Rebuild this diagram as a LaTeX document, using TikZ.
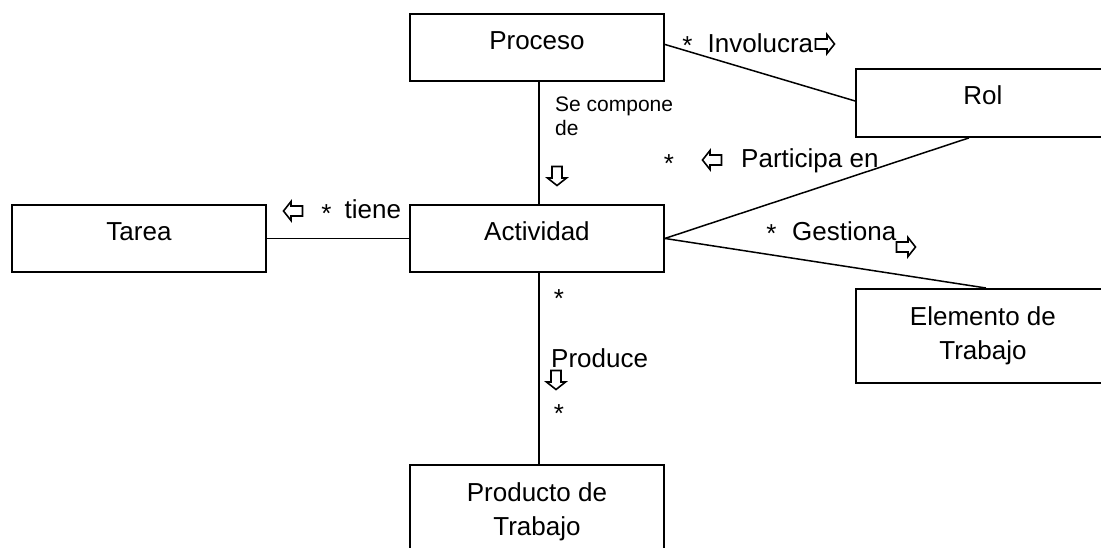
\documentclass[tikz,border=0pt]{standalone}
\usepackage{fontspec}
\setmainfont{Liberation Sans}
\begin{document}
\begin{tikzpicture}[x=1pt,y=-1pt,
  every node/.style={font=\fontsize{26}{34}\selectfont},
  classbox/.style={draw, line width=1.9, minimum width=254, minimum height=67, inner sep=0},
  oneline/.style={classbox, text height=20, text depth=16},
  twoline/.style={classbox, align=center, minimum height=94},
  lbl/.style={inner sep=0, anchor=base west},
  star/.style={inner sep=0, anchor=base},
  link/.style={line width=1.5},
  blockarrow/.pic={
    \draw[line width=1.6, line join=miter]
      (-9.5,-5) -- (2,-5) -- (2,-9.5) -- (9.5,0) -- (2,9.5) -- (2,5) -- (-9.5,5) -- cycle;
  }]
\path[use as bounding box, clip] (0,0) rectangle (1101,547);

% classes
\node[oneline, anchor=north west] (proceso)   at (409,13)  {Proceso};
\node[oneline, anchor=north west, minimum height=68] (rol) at (855,68) {Rol};
\node[oneline, anchor=north west] (tarea)     at (11,204)  {Tarea};
\node[oneline, anchor=north west] (actividad) at (409,204) {Actividad};
\node[twoline, anchor=north west] (elemento)  at (855,288) {Elemento de\\Trabajo};
\node[twoline, anchor=north west] (producto)  at (409,464) {Producto de\\Trabajo};

% associations
\draw[link] ([yshift=3pt]proceso.east) -- ([yshift=2pt]rol.west);
\draw[link] ([xshift=2pt]proceso.south) -- ([xshift=2pt]actividad.north);
\draw[link] ([xshift=-14pt]rol.south) -- (actividad.east);
\draw[link] (actividad.east) -- ([xshift=3pt]elemento.north);
\draw[link] (tarea.east) -- (actividad.west);
\draw[link] ([xshift=2pt]actividad.south) -- ([xshift=2pt]producto.north);

% Proceso - Rol
\node[star] (s1) at (687.5,54) {*};
\node[lbl] (involucra) at (707.5,52) {Involucra};
\pic at (825,44) {blockarrow};

% Proceso - Actividad
\node[inner sep=0, anchor=north west, align=left,
      font=\fontsize{21}{24}\selectfont] (compone) at (555,96.5) {Se compone\\de};
\pic[rotate=-90] at (557,176) {blockarrow};

% Rol - Actividad
\node[star] (s2) at (669,172) {*};
\pic[rotate=180] at (712,160) {blockarrow};
\node[lbl] (participa) at (741,167) {Participa en};

% Actividad - Elemento de Trabajo
\node[star] (s3) at (771.5,242) {*};
\node[lbl] (gestiona) at (792,240) {Gestiona};
\pic at (906,247) {blockarrow};

% Tarea - Actividad
\pic[rotate=180] at (293,211) {blockarrow};
\node[star] (s4) at (326.5,222) {*};
\node[lbl] (tiene) at (344.5,218) {tiene};

% Actividad - Producto de Trabajo
\node[star] (s5) at (559,307) {*};
\node[lbl] (produce) at (551,367) {Produce};
\pic[rotate=-90] at (556,380) {blockarrow};
\node[star] (s6) at (559,422) {*};
\end{tikzpicture}
\end{document}
